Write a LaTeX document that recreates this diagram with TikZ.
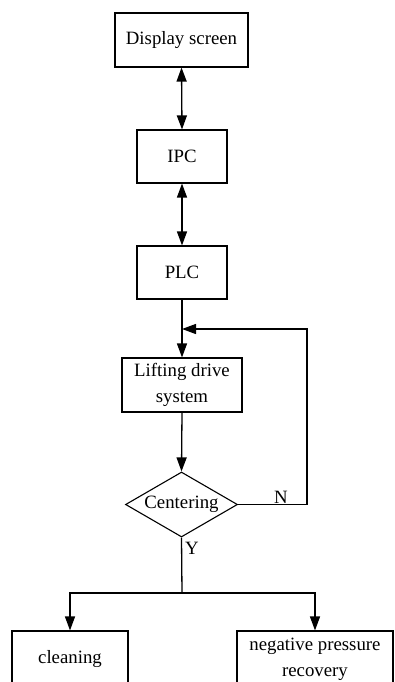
\documentclass[tikz,border=0pt]{standalone}
\usepackage{fontspec}
\setmainfont{Liberation Serif}
\usetikzlibrary{arrows.meta,shapes.geometric}
\begin{document}
\begin{tikzpicture}[x=1pt,y=-1pt,
  every node/.style={font=\fontsize{18.8}{26}\selectfont},
  box/.style={draw,line width=1.1pt,rectangle,inner sep=0pt,align=center},
  dia/.style={draw,line width=1.1pt,diamond,aspect=1.72,inner sep=0pt,minimum width=112pt,minimum height=65pt},
  conn/.style={line width=1.3pt,-{Triangle[length=14pt,width=10pt]}},
  biconn/.style={line width=1.3pt,{Triangle[length=14pt,width=10pt]}-{Triangle[length=14pt,width=10pt]}},
  plain/.style={line width=1.3pt},
  lbl/.style={inner sep=0pt}]
\useasboundingbox (0,0) rectangle (394,682);
\clip (0,0) rectangle (394,682);
\node[box,minimum width=133pt,minimum height=54pt] (disp) at (181.5,40) {Display screen};
\node[box,minimum width=90pt,minimum height=53pt] (ipc) at (182,156.5) {IPC};
\node[box,minimum width=90pt,minimum height=53pt] (plc) at (182,272.5) {PLC};
\node[box,minimum width=120pt,minimum height=54pt] (lift) at (182,385) {Lifting drive\\system};
\node[dia] (cent) at (181.5,504.5) {Centering};
\node[box,minimum width=116pt,minimum height=56pt] (clean) at (70,659) {cleaning};
\node[box,minimum width=156pt,minimum height=56pt] (neg) at (315,659) {negative pressure\\recovery};
\coordinate (fb) at (182,329);
\coordinate (fr) at (307,329);
\coordinate (dr) at (307,504.5);
\coordinate (split) at (182,593);
\coordinate (sl) at (70,593);
\coordinate (sr) at (315,593);
\node[lbl] (N) at (281,497) {N};
\node[lbl] (Y) at (192,548) {Y};
\draw[biconn] (disp.south) -- (ipc.north);
\draw[biconn] (ipc.south) -- (plc.north);
\draw[conn] (plc.south) -- (lift.north);
\draw[conn] (lift.south) -- (cent.north);
\draw[conn] (cent.east) -- (dr) -- (fr) -- (fb);
\draw[plain] (cent.south) -- (split);
\draw[conn] (split) -- (sl) -- (clean.north);
\draw[conn] (split) -- (sr) -- (neg.north);
\end{tikzpicture}
\end{document}
